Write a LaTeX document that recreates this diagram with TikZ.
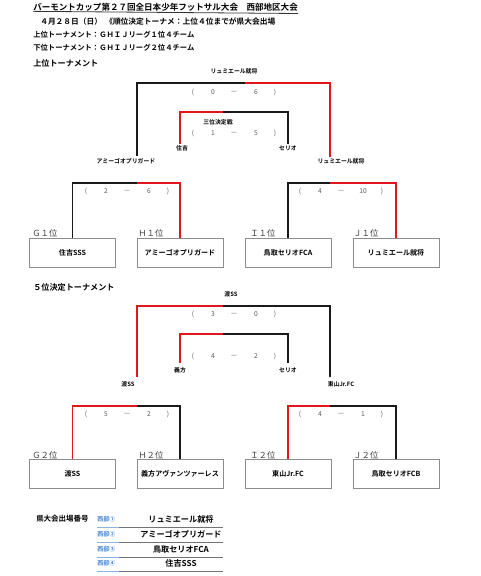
\documentclass[tikz,border=0pt]{standalone}
\usepackage{fontspec}
\setmainfont{Noto Sans CJK JP}[BoldFont=Noto Sans CJK JP Bold]
\definecolor{lnred}{HTML}{E3161C}
\definecolor{lnblk}{HTML}{1A1A1A}
\definecolor{bxgray}{HTML}{8C8C8C}
\definecolor{lgblue}{HTML}{3B82D0}
\newcommand\scoreline[5]{%
  \node[sc] (#1o) at (#2,#3) {(};
  \node[sc] (#1a) at (#2+20,#3) {#4};
  \node[sc] (#1d) at (#2+41,#3) {—};
  \node[sc] (#1b) at (#2+63,#3) {#5};
  \node[sc] (#1c) at (#2+82,#3) {)};}
\begin{document}
\begin{tikzpicture}[x=0.75pt,y=-0.75pt,
  blk/.style={line width=1.15pt,lnblk},
  rd/.style={line width=1.15pt,lnred},
  tbox/.style={draw=bxgray,line width=0.7pt,minimum width=64.5pt,minimum height=21.75pt,inner sep=0pt,font=\bfseries\fontsize{5.3}{6}\selectfont},
  lbl/.style={inner sep=0pt,font=\bfseries\fontsize{4.4}{5}\selectfont},
  sc/.style={inner sep=0pt,text=black!65,font=\fontsize{5}{6}\selectfont},
  posl/.style={inner sep=0pt,anchor=west,text=black!75,font=\fontsize{6.3}{7}\selectfont},
  hd/.style={inner sep=0pt,anchor=west,font=\bfseries\fontsize{5.5}{6}\selectfont},
  sect/.style={inner sep=0pt,anchor=west,font=\bfseries\fontsize{6.1}{7}\selectfont},
  lgn/.style={inner sep=0pt,font=\bfseries\fontsize{6.1}{7}\selectfont},
  lgb/.style={inner sep=0pt,anchor=west,text=lgblue,font=\bfseries\fontsize{4.5}{5}\selectfont},
  uline/.style={line width=0.6pt,black!55}]
\useasboundingbox (0,0) rectangle (480,576);
% ---------- header ----------
\node[inner sep=0pt,anchor=west,font=\bfseries\fontsize{6.4}{7}\selectfont] (title) at (33,7.5) {バーモントカップ第２７回全日本少年フットサル大会　西部地区大会};
\draw[line width=0.6pt,black!80] (title.south west) ++(0,-0.5) -- (title.south east |- 0,13.5);
\node[hd,font=\bfseries\fontsize{5.8}{6}\selectfont] (date) at (40,22) {４月２８日（日）};
\node[hd,font=\bfseries\fontsize{5.8}{6}\selectfont] (note) at (105,22) {《順位決定トーナメ：上位４位までが県大会出場};
\node[hd] (l3) at (33,35) {上位トーナメント：ＧＨＩＪリーグ１位４チーム};
\node[hd] (l4) at (33,48) {下位トーナメント：ＧＨＩＪリーグ２位４チーム};
% ---------- upper tournament ----------
\node[sect] (sec1) at (33,63) {上位トーナメント};
\node[lbl] (uwin) at (234,71) {リュミエール就将};
\coordinate (uf) at (245,83);
\coordinate (ufL) at (137,156);
\coordinate (ufR) at (330,157);
\draw[blk] (ufL) |- (uf);
\draw[rd] (ufR) |- (uf);
\scoreline{usf}{193}{92}{0}{6}
\coordinate (ut) at (223,112);
\coordinate (utL) at (180,144);
\coordinate (utR) at (288,144);
\draw[rd] (utL) |- (ut);
\draw[blk] (utR) |- (ut);
\node[lbl] (u3rd) at (218,122) {三位決定戦};
\scoreline{ust}{193}{133}{1}{5}
\node[lbl] (u3a) at (182,148) {住吉};
\node[lbl] (u3b) at (288,148) {セリオ};
\node[lbl] (usa) at (126,161) {アミーゴオプリガード};
\node[lbl] (usb) at (341,161) {リュミエール就将};
% semis
\node[tbox] (ub1) at (72.5,252.5) {住吉SSS};
\node[tbox] (ub2) at (180,252.5) {アミーゴオプリガード};
\node[tbox] (ub3) at (288,252.5) {鳥取セリオFCA};
\node[tbox] (ub4) at (396,252.5) {リュミエール就将};
\coordinate (us1) at (137,183);
\coordinate (us2) at (330,183);
\draw[blk] (ub1.north) |- (us1);
\draw[rd] (ub2.north) |- (us1);
\draw[blk] (ub3.north) |- (us2);
\draw[rd] (ub4.north) |- (us2);
\scoreline{usl}{86}{191}{2}{6}
\scoreline{usr}{300}{191}{4}{10}
\node[posl] (up1) at (32,233) {Ｇ１位};
\node[posl] (up2) at (138,233) {Ｈ１位};
\node[posl] (up3) at (250,233) {Ｉ１位};
\node[posl] (up4) at (353,233) {Ｊ１位};
% ---------- 5th place tournament ----------
\node[sect] (sec2) at (33,287) {５位決定トーナメント};
\node[lbl] (lwin) at (231,294) {渡SS};
\coordinate (lf) at (223,306);
\coordinate (lfL) at (137,377);
\coordinate (lfR) at (330,377);
\draw[rd] (lfL) |- (lf);
\draw[blk] (lfR) |- (lf);
\scoreline{lsf}{193}{314}{3}{0}
\coordinate (lt) at (223,334);
\coordinate (ltL) at (180,363);
\coordinate (ltR) at (288,363);
\draw[rd] (ltL) |- (lt);
\draw[blk] (ltR) |- (lt);
\scoreline{lst}{193}{356}{4}{2}
\node[lbl] (l7a) at (180,370) {義方};
\node[lbl] (l7b) at (288,370) {セリオ};
\node[lbl] (lsa) at (128,384) {渡SS};
\node[lbl] (lsb) at (341,384) {東山Jr.FC};
\node[tbox] (lb1) at (72.5,474) {渡SS};
\node[tbox] (lb2) at (180,474) {義方アヴァンツァーレス};
\node[tbox] (lb3) at (288,474) {東山Jr.FC};
\node[tbox] (lb4) at (396,474) {鳥取セリオFCB};
\coordinate (ls1) at (137,406);
\coordinate (ls2) at (330,406);
\draw[rd] (lb1.north) |- (ls1);
\draw[blk] (lb2.north) |- (ls1);
\draw[rd] (lb3.north) |- (ls2);
\draw[blk] (lb4.north) |- (ls2);
\scoreline{lsl}{86}{414}{5}{2}
\scoreline{lsr}{300}{414}{4}{1}
\node[posl] (lp1) at (32,455) {Ｇ２位};
\node[posl] (lp2) at (138,455) {Ｈ２位};
\node[posl] (lp3) at (250,455) {Ｉ２位};
\node[posl] (lp4) at (353,455) {Ｊ２位};
% ---------- legend ----------
\node[inner sep=0pt,anchor=west,font=\bfseries\fontsize{5.6}{6}\selectfont] (lgh) at (36,519) {県大会出場番号};
\foreach \i/\yy/\team in {1/519/リュミエール就将,2/534/アミーゴオプリガード,3/549/鳥取セリオFCA,4/563/住吉SSS}{
  \node[lgb] (lgk\i) at (97,\yy) {西部\ifcase\i\or ①\or ②\or ③\or ④\fi};
  \node[lgn] (lgt\i) at (181,\yy) {\team};
  \coordinate (lua\i) at (97,\yy+8);
  \coordinate (lub\i) at (119,\yy+8);
  \coordinate (luc\i) at (223,\yy+8);
  \draw[line width=0.6pt,lgblue!60] (lua\i) -- (lub\i);
  \draw[uline] (lub\i) -- (luc\i);
}
\end{tikzpicture}
\end{document}
